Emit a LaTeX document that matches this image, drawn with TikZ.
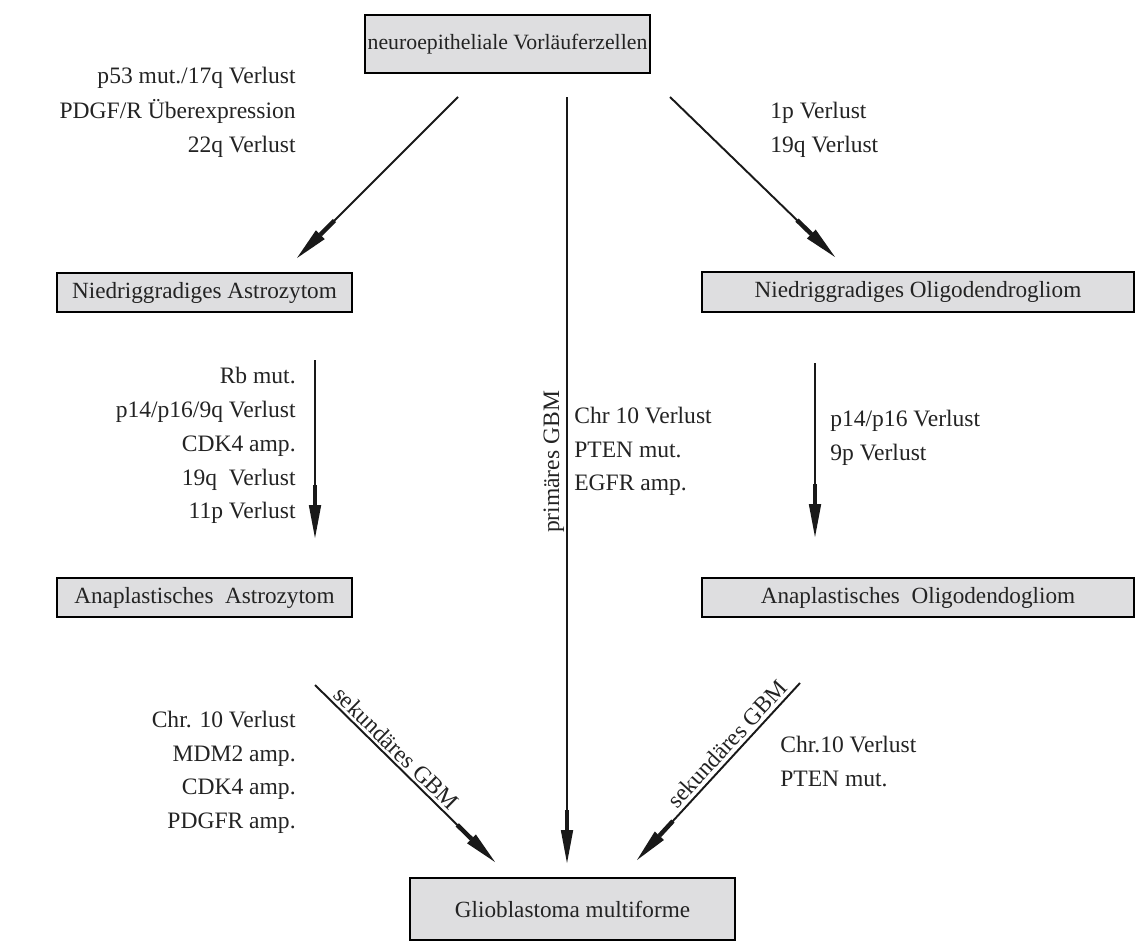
\documentclass[tikz,border=0pt]{standalone}
\usepackage{fontspec}
\setmainfont{Liberation Serif}
\usetikzlibrary{arrows.meta}
\definecolor{boxgray}{RGB}{222,222,224}
\definecolor{txt}{RGB}{35,35,35}
\begin{document}
\begin{tikzpicture}[x=0.02cm,y=-0.02cm,
  box/.style={draw=black, line width=1.6pt, fill=boxgray, inner sep=0pt, text=txt,
    font=\fontsize{13.2}{16}\selectfont},
  lbl/.style={inner sep=0pt, text=txt, font=\fontsize{13.4}{16}\selectfont},
  lr/.style={lbl, anchor=base east},
  ll/.style={lbl, anchor=base west},
  arr/.style={line width=1.1pt, draw=black!90,
    -{Rectangle[length=0.4cm,width=0.09cm,line width=0pt]Triangle[length=0.66cm,width=0.25cm,line width=0pt]}}]
\useasboundingbox (0,0) rectangle (1138,943);
% boxes
\node[box, minimum width=5.7cm, minimum height=1.16cm, font=\fontsize{12.4}{16}\selectfont] (top) at (507.5,44) {neuroepitheliale Vorläuferzellen};
\node[box, minimum width=5.9cm, minimum height=0.78cm] (na) at (204.5,292.5) {Niedriggradiges Astrozytom};
\node[box, minimum width=8.64cm, minimum height=0.8cm] (no) at (918,292) {Niedriggradiges Oligodendrogliom};
\node[box, minimum width=5.9cm, minimum height=0.78cm] (aa) at (204.5,597.5) {Anaplastisches\ \ Astrozytom};
\node[box, minimum width=8.64cm, minimum height=0.78cm] (ao) at (918,597.5) {Anaplastisches\ \ Oligodendogliom};
\node[box, minimum width=6.5cm, minimum height=1.24cm] (gm) at (572.5,909) {Glioblastoma multiforme};
% arrow end points
\coordinate (t1s) at (458,97);  \coordinate (t1e) at (297,258);
\coordinate (cs) at (567,97);   \coordinate (ce) at (567,863);
\coordinate (t2s) at (670,97);  \coordinate (t2e) at (835,257);
\coordinate (ls) at (315,360);  \coordinate (le) at (315,538);
\coordinate (rs) at (815,363);  \coordinate (re) at (815,537);
\coordinate (s1s) at (315,685); \coordinate (s1e) at (495,862);
\coordinate (s2s) at (800,683); \coordinate (s2e) at (637,860);
\draw[arr] (t1s) -- (t1e);
\draw[arr] (cs) -- (ce);
\draw[arr] (t2s) -- (t2e);
\draw[arr] (ls) -- (le);
\draw[arr] (rs) -- (re);
\draw[arr] (s1s) -- (s1e);
\draw[arr] (s2s) -- (s2e);
% rotated labels
\node[lbl, anchor=south, rotate=90, inner sep=1.5pt] (prim) at (567,462) {primäres GBM};
\node[lbl, anchor=south, rotate=-44.5, inner sep=2pt] (sek1) at (388,757) {sekundäres GBM};
\node[lbl, anchor=south, rotate=47.4, inner sep=2pt] (sek2) at (736,752) {sekundäres GBM};
% top left
\node[lr] (a1) at (296,83) {p53 mut./17q Verlust};
\node[lr] (a2) at (296,118) {PDGF/R Überexpression};
\node[lr] (a3) at (296,152) {22q Verlust};
% top right
\node[ll] (b1) at (770,118) {1p Verlust};
\node[ll] (b2) at (770,152) {19q Verlust};
% middle left
\node[lr] (c1) at (296,383) {Rb mut.};
\node[lr] (c2) at (296,417) {p14/p16/9q Verlust};
\node[lr] (c3) at (296,451) {CDK4 amp.};
\node[lr] (c4) at (296,485) {19q\ \ Verlust};
\node[lr] (c5) at (296,518) {11p Verlust};
% center
\node[ll] (d1) at (574,423) {Chr 10 Verlust};
\node[ll] (d2) at (574,457) {PTEN mut.};
\node[ll] (d3) at (574,490) {EGFR amp.};
% middle right
\node[ll] (e1) at (830,426) {p14/p16 Verlust};
\node[ll] (e2) at (830,460) {9p Verlust};
% bottom left
\node[lr] (f1) at (296,727) {Chr. 10 Verlust};
\node[lr] (f2) at (296,761) {MDM2 amp.};
\node[lr] (f3) at (296,794) {CDK4 amp.};
\node[lr] (f4) at (296,828) {PDGFR amp.};
% bottom right
\node[ll] (g1) at (780,752) {Chr.10 Verlust};
\node[ll] (g2) at (780,786) {PTEN mut.};
\end{tikzpicture}
\end{document}
